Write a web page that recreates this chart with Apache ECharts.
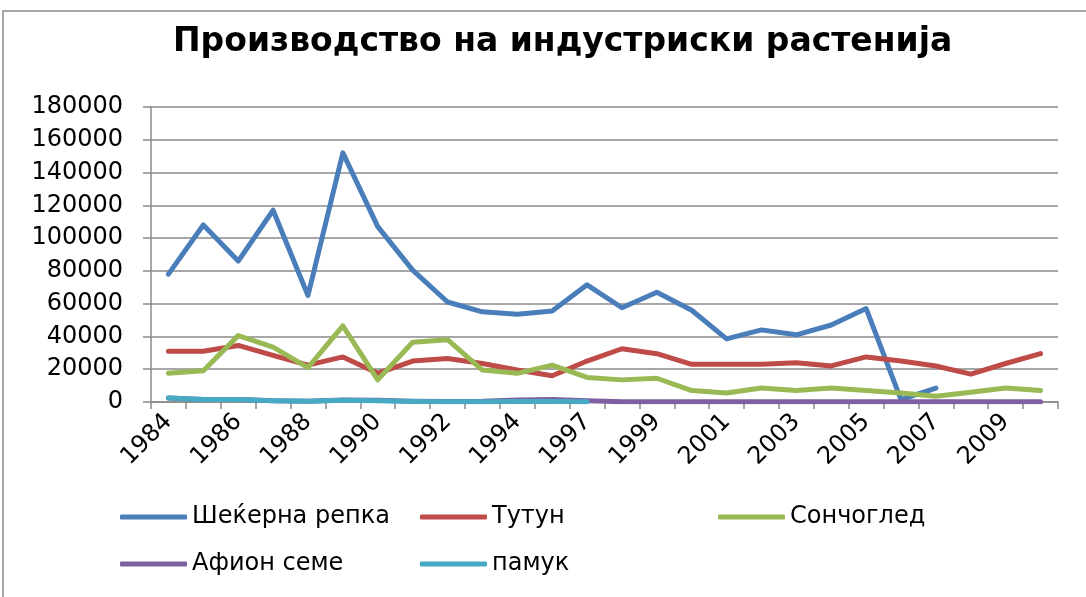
<!DOCTYPE html>
<html>
<head>
<meta charset="utf-8">
<script src="https://cdn.jsdelivr.net/npm/echarts@6/dist/echarts.min.js"></script>
<style>
    html, body { margin: 0; padding: 0; background: #fff; }
    #chart { width: 1086px; height: 597px; }
</style>
</head>
<body>
<div id="chart"></div>
<script>
    // years on the category axis (1996 is absent from the source table)
    const years = ['1984', '1985', '1986', '1987', '1988', '1989', '1990', '1991', '1992', '1993', '1994', '1995',
        '1997', '1998', '1999', '2000', '2001', '2002', '2003', '2004', '2005', '2006', '2007', '2008', '2009', '2010'];

    const sugarBeet = [78000, 108000, 86000, 117000, 65000, 152000, 107000, 80500, 61000, 55000, 53500, 55500,
        71500, 57500, 67000, 56000, 38500, 44000, 41000, 47000, 57000, 1500, 8500, null, null, null];
    const tobacco = [31000, 31000, 34500, 28500, 22500, 27500, 17500, 25000, 26500, 23500, 19500, 16000,
        25000, 32500, 29500, 23000, 23000, 23000, 24000, 22000, 27500, 25000, 22000, 17000, 23500, 29500];
    const sunflower = [17500, 19000, 40500, 33500, 21000, 46500, 13500, 36500, 38000, 19500, 17500, 22500,
        15000, 13500, 14500, 7000, 5500, 8500, 7000, 8500, 7000, 5500, 3500, 6000, 8500, 7000];
    const poppySeed = [2500, 1500, 1500, 700, 500, 1200, 1000, 500, 300, 500, 1200, 1500,
        800, 100, 100, 100, 100, 100, 100, 100, 100, 100, 100, 100, 100, 100];
    const cotton = [2500, 1500, 1500, 800, 400, 1000, 800, 300, 200, 200, 300, 300,
        200, null, null, null, null, null, null, null, null, null, null, null, null, null];

    const names = ['Шеќерна репка', 'Тутун', 'Сончоглед', 'Афион семе', 'памук'];
    const colors = ['#4A7EBB', '#BE4B48', '#98B954', '#7D60A0', '#46AAC5'];
    const values = [sugarBeet, tobacco, sunflower, poppySeed, cotton];

    const FONT = 'DejaVu Sans';
    const AxisColor = '#8a8a8a';

    // legend slots laid out like the original: three columns, two rows
    const legendSlots = [[115, 500], [415, 500], [713, 500], [115, 547], [415, 547]];

    const chart = echarts.init(document.getElementById('chart'), null, {renderer: 'canvas'});

    const option = {
        animation: false,
        color: colors,
        backgroundColor: '#fff',
        title: {
            text: 'Производство на индустриски растенија',
            left: 168,
            top: 21,
            textStyle: {
                fontFamily: FONT,
                fontWeight: 'bold',
                fontSize: 33,
                color: '#000'
            }
        },
        graphic: [{
            type: 'rect',
            shape: {x: 3, y: 11, width: 1200, height: 700},
            style: {fill: 'none', stroke: '#a6a6a6', lineWidth: 2},
            silent: true
        }],
        legend: names.map((name, idx) => ({
            left: legendSlots[idx][0],
            top: legendSlots[idx][1],
            icon: 'roundRect',
            itemWidth: 67,
            itemHeight: 5,
            selectedMode: false,
            data: [name],
            itemStyle: {color: colors[idx]},
            textStyle: {
                fontFamily: FONT,
                fontSize: 24,
                color: '#000'
            }
        })),
        grid: {
            left: 151,
            right: 28,
            top: 107,
            bottom: 195,
            containLabel: false
        },
        xAxis: {
            type: 'category',
            data: years,
            boundaryGap: true,
            axisLine: {lineStyle: {color: AxisColor, width: 1.5}},
            axisTick: {
                show: true,
                interval: 0,
                length: 7,
                lineStyle: {color: AxisColor, width: 1.5}
            },
            axisLabel: {
                interval: 1,
                rotate: 45,
                margin: 16,
                fontFamily: FONT,
                fontSize: 24,
                color: '#000'
            },
            splitLine: {show: false}
        },
        yAxis: {
            type: 'value',
            min: 0,
            max: 180000,
            interval: 20000,
            axisLine: {show: true, lineStyle: {color: AxisColor, width: 1.5}},
            axisTick: {show: true, length: 8, lineStyle: {color: AxisColor, width: 1.5}},
            axisLabel: {
                margin: 28,
                fontFamily: FONT,
                fontSize: 24,
                color: '#000',
                formatter: value => String(value)
            },
            splitLine: {lineStyle: {color: AxisColor, width: 1.5}}
        },
        series: names.map((name, idx) => ({
            name: name,
            type: 'line',
            data: values[idx],
            symbol: 'none',
            showSymbol: false,
            connectNulls: false,
            lineStyle: {color: colors[idx], width: 5, cap: 'round', join: 'round'},
            itemStyle: {color: colors[idx]}
        }))
    };

    chart.setOption(option, true);
</script>
</body>
</html>
